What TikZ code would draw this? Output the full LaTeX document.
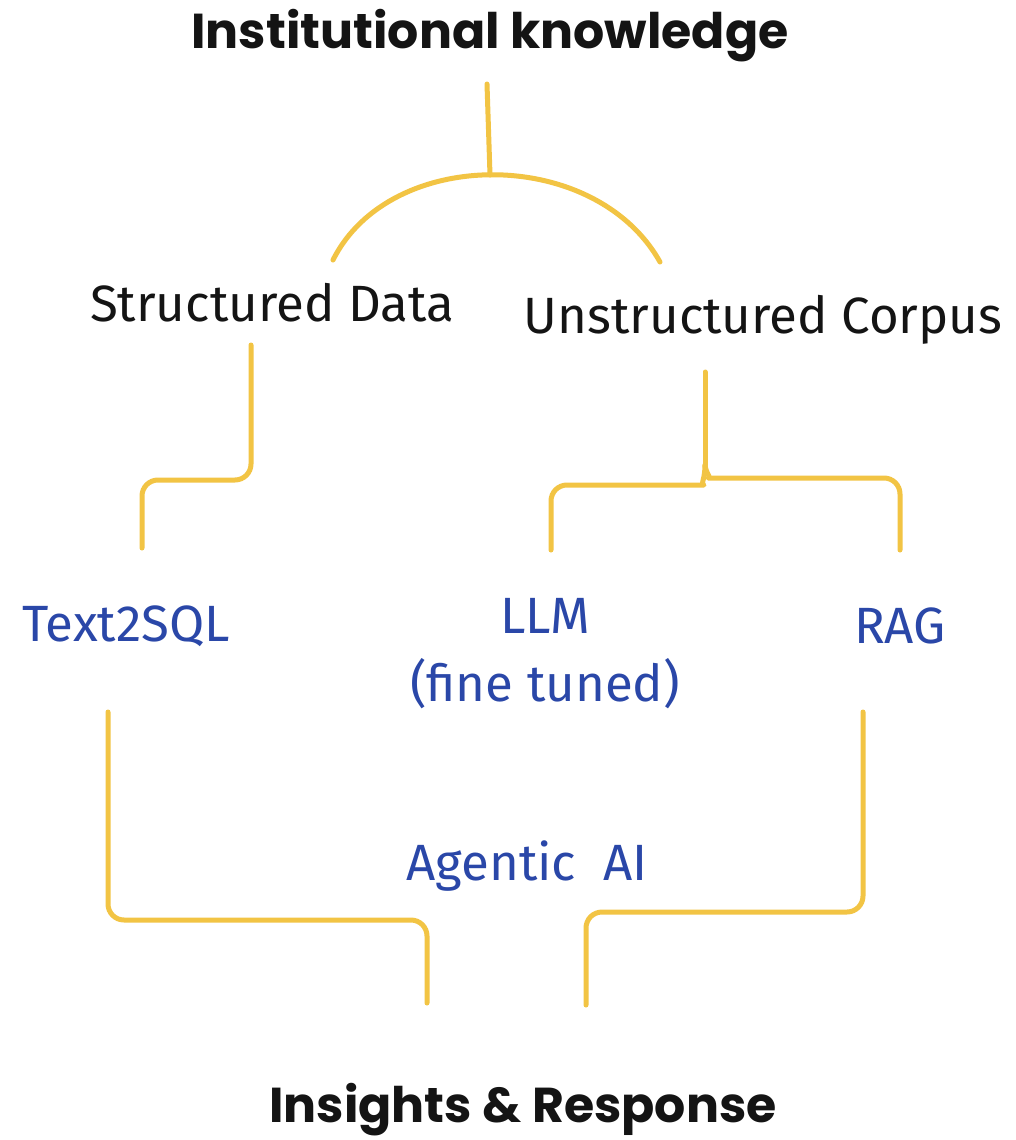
\documentclass[tikz,border=0pt]{standalone}
\usepackage{fontspec}
\setmainfont{Fira Sans}
\newfontfamily\headfont{Poppins}[BoldFont={* Bold}]
\definecolor{linkyellow}{HTML}{F2C444}
\definecolor{techblue}{HTML}{2A47A8}
\definecolor{inkblack}{HTML}{141414}
\tikzset{
  heading/.style={font=\headfont\bfseries\fontsize{49}{52}\selectfont, text=inkblack, inner sep=0pt},
  source/.style={font=\fontsize{51}{56}\selectfont, text=inkblack, inner sep=0pt},
  tech/.style={font=\fontsize{51}{68}\selectfont, text=techblue, inner sep=0pt, align=center},
  link/.style={draw=linkyellow, line width=5pt, line cap=round, line join=round, rounded corners=16pt},
}
\begin{document}
\begin{tikzpicture}[x=1pt,y=-1pt]
\useasboundingbox[fill=white] (0,0) rectangle (1015,1140);

% labels
\node[heading] (inst) at (490,36) {Institutional knowledge};
\node[source] (struct) at (272,303) {Structured Data};
\node[source] (unstruct) at (763,320) {Unstructured Corpus};
\node[tech] (t2s) at (126,626) {Text2SQL};
\node[tech] (llm) at (545,654) {LLM\\(fine tuned)};
\node[tech] (rag) at (900,626) {RAG};
\node[tech] (agent) at (527,866) {Agentic\ \ AI};
\node[heading] (insight) at (523,1110) {Insights \& Response};

% anchor points of the connectors
\coordinate (instfoot) at (487,84);
\coordinate (split) at (490,175);
\coordinate (structtop) at (333,260);
\coordinate (unstructtop) at (660,262);
\coordinate (structfoot) at (251,345);
\coordinate (t2stop) at (142,548);
\coordinate (unstructfoot) at (705,372);
\coordinate (fork) at (705,465);
\coordinate (llmtop) at (551,550);
\coordinate (ragtop) at (900,550);
\coordinate (t2sfoot) at (108,712);
\coordinate (ragfoot) at (863,712);
\coordinate (leftin) at (427,1003);
\coordinate (rightin) at (586,1005);

% institutional knowledge splits into the two sources
\draw[link] (instfoot) -- (split);
\draw[link] (structtop) .. controls (390,146) and (595,146) .. (unstructtop);

% structured data -> Text2SQL
\draw[link] (structfoot) -- (251,480) -- (142,480) -- (t2stop);

% unstructured corpus -> LLM and RAG
\draw[link, rounded corners=0pt] (unstructfoot) -- (fork);
\draw[link] (fork) .. controls (705,480) and (700,485) .. (688,485) -- (551,485) -- (llmtop);
\draw[link] (fork) .. controls (706,474) and (712,478) .. (724,478) -- (900,478) -- (ragtop);

% Text2SQL and RAG feed the agentic step
\draw[link] (t2sfoot) -- (108,920) -- (427,920) -- (leftin);
\draw[link] (ragfoot) -- (863,912) -- (586,912) -- (rightin);
\end{tikzpicture}
\end{document}
